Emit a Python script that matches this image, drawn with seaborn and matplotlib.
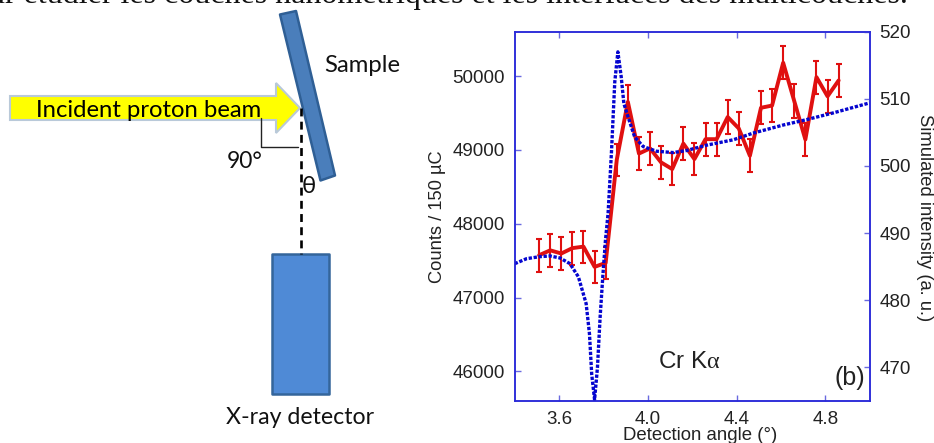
"""
Proton beam geometry sketch next to the Cr K-alpha angular scan.
"""

import matplotlib
matplotlib.use("Agg")
import matplotlib.pyplot as plt
from matplotlib.patches import Polygon, Rectangle
import pandas as pd
import seaborn as sns

# measured counts
angle = [3.51, 3.56, 3.61, 3.66, 3.71, 3.76, 3.81, 3.86, 3.91, 3.96, 4.01, 4.06, 4.11, 4.16,
         4.21, 4.26, 4.31, 4.36, 4.41, 4.46, 4.51, 4.56, 4.61, 4.66, 4.71, 4.76, 4.81, 4.86]
counts = [47574, 47640, 47597, 47670, 47690, 47416, 47470, 48865, 49650, 48950, 49020, 48830,
          48740, 49085, 48875, 49145, 49145, 49445, 49290, 48920, 49570, 49600, 50180, 49660,
          49140, 49985, 49725, 49940]
counts_err = [221, 223, 222, 223, 216, 221, 221, 221, 225, 225, 225, 221, 221, 221, 221, 225,
              223, 225, 225, 223, 225, 225, 225, 227, 223, 225, 221, 225]

# simulated curve
sim_angle = [3.40, 3.454, 3.514, 3.559, 3.604, 3.649, 3.687, 3.722, 3.737, 3.747, 3.760, 3.773,
             3.785, 3.797, 3.809, 3.821, 3.836, 3.851, 3.865, 3.880, 3.892, 3.911, 3.941, 3.979,
             4.039, 4.114, 4.174, 4.265, 4.385, 4.475, 4.610, 4.715, 4.835, 5.00]
sim_value = [485.45, 486.2, 486.5, 486.6, 486.3, 485.45, 483.5, 479.5, 475.0, 469.0, 465.2,
             470.0, 477.5, 483.5, 488.9, 493.0, 502.0, 512.5, 517.0, 513.3, 509.3, 507.3, 504.3,
             502.9, 502.2, 502.0, 502.3, 503.1, 503.9, 504.9, 506.1, 506.9, 507.9, 509.4]

x_ticks = [3.6, 4.0, 4.4, 4.8]
left_ticks = [46000, 47000, 48000, 49000, 50000]
right_ticks = [470, 480, 490, 500, 510, 520]

W, H = 934, 443
AXIS_BLUE = "#2a2ad8"
RED = "#e01010"
BLUE = "#0505cf"

sns.set_theme(style="white")
plt.rcParams["font.family"] = ["Liberation Sans", "DejaVu Sans"]
plt.rcParams["mathtext.fontset"] = "custom"
plt.rcParams["mathtext.rm"] = "Liberation Serif"
plt.rcParams["mathtext.it"] = "Liberation Serif:italic"

fig = plt.figure(figsize=(W / 100, H / 100), dpi=100)

# sketch layer, in pixel coordinates of the figure
sk = fig.add_axes([0, 0, 1, 1])
sk.set_xlim(0, W)
sk.set_ylim(H, 0)
sk.axis("off")

sk.text(908, 3, "our étudier les couches nanométriques et les interfaces des multicouches.",
        family="Liberation Serif", fontsize=23, color="#111111", ha="right", va="baseline")

sk.add_patch(Polygon([(10, 96), (276, 96), (276, 83), (300, 108), (276, 133), (276, 120), (10, 120)],
                     facecolor="#ffff00", edgecolor="#b9c9d9", lw=1.5, zorder=2))
sk.add_patch(Polygon([(280, 14.5), (296, 11), (335, 175.5), (320.5, 180.5)],
                     facecolor="#4a7ebb", edgecolor="#2f5f95", lw=1.8, joinstyle="round", zorder=3))
sk.add_patch(Rectangle((271.7, 254), 57, 140, facecolor="#4f8ad6", edgecolor="#34659b",
                       lw=1.8, joinstyle="round", zorder=3))
sk.plot([300.5, 300.5], [108, 254], color="black", lw=1.9, ls=(0, (3, 2)), zorder=4)
sk.plot([260.5, 260.5, 298], [118, 147, 147], color="#222222", lw=1, zorder=4)

SKETCH_FONT = "Lato"
sk.text(36, 117, "Incident proton beam", family=SKETCH_FONT, fontsize=17.2, color="black",
        ha="left", va="baseline", zorder=5)
sk.text(227, 168, "90°", family=SKETCH_FONT, fontsize=16.5, color="#111111", va="baseline")
sk.text(302, 193, "θ", family=SKETCH_FONT, fontsize=17, color="#111111", va="baseline")
sk.text(324, 71.5, "Sample", family=SKETCH_FONT, fontsize=17.2, color="#111111", va="baseline")
sk.text(226, 424, "X-ray detector", family=SKETCH_FONT, fontsize=16.7, color="#111111", va="baseline")

# scan
left, right, top, bottom = 514.7, 869.7, 31.7, 401
ax = fig.add_axes([left / W, 1 - bottom / H, (right - left) / W, (bottom - top) / H])
ax.patch.set_alpha(0)

scan = pd.DataFrame({"angle": angle, "counts": counts, "err": counts_err})
ax.errorbar(scan["angle"], scan["counts"], yerr=scan["err"], fmt="none", ecolor=RED,
            elinewidth=1.5, capsize=2.2, capthick=1.5)
sns.lineplot(data=scan, x="angle", y="counts", color=RED, lw=2.8, ax=ax, errorbar=None)
ax.set_xlim(3.4, 5.0)
ax.set_ylim(45600, 50600)
ax.set_xticks(x_ticks, [f"{t:.1f}" for t in x_ticks])
ax.set_yticks(left_ticks)
ax.tick_params(axis="x", direction="in", top=True, bottom=True, length=4.3, width=1,
               color="#6a6ae0", labelsize=13.5, labelcolor="#222222", pad=7)
ax.tick_params(axis="y", direction="in", left=True, right=False, length=4.3, width=1,
               color="#6a6ae0", labelsize=13.5, labelcolor="#222222", pad=7)
ax.set_xlabel("Detection angle (°)", fontsize=13.4, color="#222222")
ax.set_ylabel("Counts / 150 µC", fontsize=13.2, color="#222222")
ax.xaxis.set_label_coords((700 - left) / (right - left), (bottom - 443.5) / (bottom - top),
                          transform=ax.transAxes)
ax.xaxis.label.set_va("bottom")
ax.yaxis.set_label_coords((437 - left) / (right - left), 0.5)
ax.yaxis.label.set_va("center")

ax2 = ax.twinx()
sim = pd.DataFrame({"angle": sim_angle, "value": sim_value})
sns.lineplot(data=sim, x="angle", y="value", color=BLUE, lw=2.4, ls=(0, (1, 0.5)), ax=ax2,
             errorbar=None)
ax2.set_ylim(465, 520)
ax2.set_yticks(right_ticks)
ax2.tick_params(axis="y", direction="in", right=True, left=False, length=4.3, width=1,
                color="#6a6ae0", labelsize=13.5, labelcolor="#222222", pad=7)
ax2.set_ylabel("Simulated intensity (a. u.)", fontsize=13.2, color="#222222", rotation=270)
ax2.yaxis.set_label_coords((924 - left) / (right - left), 0.497)
ax2.yaxis.label.set_va("center")

for a in (ax, ax2):
    for name, spine in a.spines.items():
        spine.set_color(AXIS_BLUE)
        spine.set_linewidth(1.1)
        spine.set_visible(True)

ax.text(0.405, 0.09, r"Cr K$\mathrm{\alpha}$", transform=ax.transAxes, fontsize=17.5,
        color="#222222", va="baseline")
ax.text(0.987, 0.043, "(b)", transform=ax.transAxes, fontsize=18, color="#222222",
        ha="right", va="baseline")

fig.savefig("out.png", dpi=100)
